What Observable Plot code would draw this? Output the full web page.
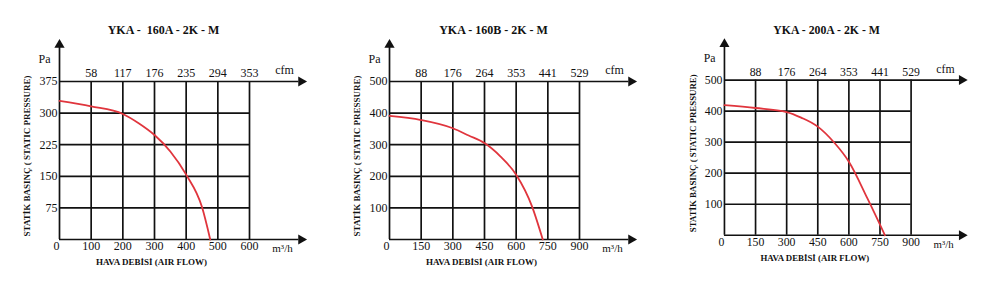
<!DOCTYPE html>
<html>
<head>
<meta charset="utf-8">
<script src="https://cdn.jsdelivr.net/npm/d3@7"></script>
<script src="https://cdn.jsdelivr.net/npm/@observablehq/plot@0.6"></script>
<style>
  html, body { margin: 0; padding: 0; background: #fff; }
  #wrap { position: relative; width: 1000px; height: 292px; overflow: hidden; }
  .panel { position: absolute; top: 0; }
  #wrap svg, #wrap svg text { font-family: "Liberation Serif", "Times New Roman", serif !important; }
</style>
</head>
<body>
<div id="wrap"></div>
<script>
// ---- data ----
const titles = ["YKA -  160A - 2K - M", "YKA - 160B - 2K - M", "YKA - 200A - 2K - M"];
const yTitle = "STATİK BASINÇ ( STATIC PRESSURE)";
const xTitle = "HAVA DEBİSİ (AIR FLOW)";

const flowTicks160A = [0, 100, 200, 300, 400, 500, 600];
const pressureTicks160A = [75, 150, 225, 300, 375];
const cfm160A = ["58", "117", "176", "235", "294", "353"];
const flow160A = [0, 100, 200, 250, 300, 350, 400, 450, 476];
const pressure160A = [329, 316, 298, 276, 248, 209, 154, 77, 0];

const flowTicks160B = [0, 150, 300, 450, 600, 750, 900];
const pressureTicks160B = [100, 200, 300, 400, 500];
const cfm160B = ["88", "176", "264", "353", "441", "529"];
const flow160B = [0, 150, 300, 375, 450, 525, 600, 675, 726];
const pressure160B = [391, 378, 352, 329, 305, 263, 205, 105, 0];

const flowTicks200A = [0, 150, 300, 450, 600, 750, 900];
const pressureTicks200A = [100, 200, 300, 400, 500];
const cfm200A = ["88", "176", "264", "353", "441", "529"];
const flow200A = [0, 150, 300, 370, 450, 530, 600, 690, 774];
const pressure200A = [419, 410, 397, 379, 350, 298, 237, 118, 0];

const panels = [
  {title: titles[0], xTicks: flowTicks160A, yTicks: pressureTicks160A, cfm: cfm160A, flow: flow160A, pressure: pressure160A, left: 0},
  {title: titles[1], xTicks: flowTicks160B, yTicks: pressureTicks160B, cfm: cfm160B, flow: flow160B, pressure: pressure160B, left: 330},
  {title: titles[2], xTicks: flowTicks200A, yTicks: pressureTicks200A, cfm: cfm200A, flow: flow200A, pressure: pressure200A, left: 666}
];

const W = 340, H = 292, ML = 59, MR = 91, MT = 81, MB = 53;
const ink = "#111";
const sw = 1.7;

function makePanel(p) {
  const xMax = d3.max(p.xTicks), yMax = d3.max(p.yTicks);
  const curve = p.flow.map((f, i) => ({flow: f, pressure: p.pressure[i]}));
  const innerX = p.xTicks.filter(d => d > 0);
  const innerY = p.yTicks.filter(d => d < yMax);
  const t = {lineAnchor: "middle"};
  return Plot.plot({
    width: W, height: H,
    marginLeft: ML, marginRight: MR, marginTop: MT, marginBottom: MB,
    x: {domain: [0, xMax], axis: null},
    y: {domain: [0, yMax], axis: null},
    style: {fontFamily: "Liberation Serif, serif", background: "transparent", color: ink},
    marks: [
      // grid
      Plot.ruleX(innerX, {y1: 0, y2: yMax, stroke: ink, strokeWidth: sw}),
      Plot.ruleY(innerY, {x1: 0, x2: xMax, stroke: ink, strokeWidth: sw}),
      // axes (bottom + top cfm axis + vertical axis) with arrows
      Plot.ruleY([0, yMax], {x1: 0, x2: xMax * 1.26, stroke: ink, strokeWidth: sw}),
      Plot.ruleX([0], {y1: 0, y2: yMax * 1.22, stroke: ink, strokeWidth: sw}),
      Plot.dot([0, yMax], {x: xMax * 1.272, y: d => d, symbol: "triangle", r: 3.8, rotate: 90, fill: ink, stroke: "none"}),
      Plot.dot([0], {x: 0, y: yMax * 1.232, symbol: "triangle", r: 3.8, fill: ink, stroke: "none"}),
      // curve
      Plot.line(curve, {x: "flow", y: "pressure", curve: "monotone-x", stroke: "#e0353d", strokeWidth: 1.8}),
      // tick labels
      Plot.text(innerX, {...t, x: d => d, text: (d, i) => p.cfm[i], frameAnchor: "top", dy: -8, fontSize: 12}),
      Plot.text(innerX, {...t, x: d => d, text: d => String(d), frameAnchor: "bottom", dy: 7, fontSize: 12}),
      Plot.text([0], {...t, x: d => d, text: d => String(d), frameAnchor: "bottom", dy: 7, dx: -3, fontSize: 12}),
      Plot.text(p.yTicks, {...t, y: d => d, text: d => String(d), frameAnchor: "left", textAnchor: "end", dx: -2, fontSize: 12}),
      // unit labels
      Plot.text(["Pa"], {...t, text: d => d, frameAnchor: "top-left", textAnchor: "end", dx: -9, dy: -22, fontSize: 12}),
      Plot.text(["cfm"], {...t, text: d => d, frameAnchor: "top-right", textAnchor: "middle", dx: 35, dy: -11, fontSize: 12}),
      Plot.text(["m³/h"], {...t, text: d => d, frameAnchor: "bottom-right", textAnchor: "middle", dx: 33, dy: 9, fontSize: 11}),
      // titles
      Plot.text([p.title], {...t, text: d => d, frameAnchor: "top", textAnchor: "middle", dx: 9, dy: -51, fontSize: 12, fontWeight: "bold"}),
      Plot.text([xTitle], {...t, text: d => d, frameAnchor: "bottom", textAnchor: "middle", dx: -3, dy: 23, fontSize: 9, fontWeight: "bold"}),
      Plot.text([yTitle], {...t, text: d => d, frameAnchor: "left", textAnchor: "middle", rotate: -90, dx: -32, dy: -4.5, fontSize: 9, fontWeight: "bold"})
    ]
  });
}

const wrap = document.getElementById("wrap");
for (const p of panels) {
  const div = document.createElement("div");
  div.className = "panel";
  div.style.left = p.left + "px";
  div.appendChild(makePanel(p));
  wrap.appendChild(div);
}
</script>
</body>
</html>
